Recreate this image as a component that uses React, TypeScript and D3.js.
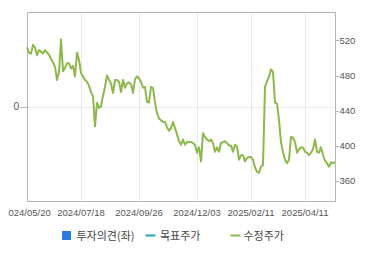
import React from "react";
import * as d3 from "d3";

const prices: number[] = [
  512, 506, 505, 515, 512, 503, 509, 507, 505, 509,
  506, 504, 499, 495, 490, 475, 484, 521, 485, 489,
  494, 494, 488, 491, 479, 506, 498, 483, 479, 475,
  473, 468, 461, 456, 422, 449, 443, 445, 457, 467,
  480, 475, 471, 460, 475, 475, 473, 461, 475, 466,
  471, 472, 470, 460, 476, 479, 477, 473, 466, 467,
  450, 449, 467, 466, 449, 437, 431, 429, 427, 427,
  421, 417, 420, 427, 420, 413, 405, 401, 407, 401,
  404, 404, 404, 403, 401, 392, 398, 382, 414, 410,
  407, 405, 407, 403, 393, 398, 393, 403, 404, 405,
  403, 400, 400, 393, 401, 399, 384, 389, 389, 382,
  386, 387, 387, 384, 375, 370, 369, 376, 378, 467,
  473, 479, 487, 484, 449, 448, 429, 404, 393, 384,
  380, 384, 410, 409, 404, 392, 396, 398, 398, 393,
  392, 389, 392, 396, 407, 393, 392, 398, 389, 383,
  380, 376, 381, 380, 381,
];

const dateLabels: string[] = [
  "2024/05/20",
  "2024/07/18",
  "2024/09/26",
  "2024/12/03",
  "2025/02/11",
  "2025/04/11",
];
const dateIndex: number[] = [0, 27, 56, 85, 112, 139];

const rightTicks: number[] = [360, 400, 440, 480, 520];
const leftTicks: number[] = [0];

const legendItems: string[] = ["투자의견(좌)", "목표주가", "수정주가"];

const W = 370;
const H = 255;
const L = 27;
const R = 335;
const T = 12;
const B = 201;

const FONT = "'Liberation Sans', Arial, sans-serif";
const KFONT = "'Noto Sans CJK KR', 'Noto Sans', sans-serif";

export default function App() {
  const x = d3.scaleLinear().domain([0, prices.length - 1]).range([L, R]);
  const yR = d3.scaleLinear().domain([336.8, 552.5]).range([B, T]);
  const yL = d3.scaleLinear().domain([-1, 1]).range([B, T]);
  const line = d3
    .line<number>()
    .x((_, i) => x(i))
    .y((d) => yR(d));

  return (
    <svg
      width={W}
      height={H}
      style={{ position: "absolute", left: 0, top: 0, background: "#fff" }}
    >
      <defs>
        <clipPath id="chartClip">
          <rect x={8} y={0} width={W - 8} height={H} />
        </clipPath>
      </defs>
      <rect x={0} y={0} width={W} height={H} fill="#fff" />
      <g clipPath="url(#chartClip)">
        {/* vertical grid */}
        {dateIndex.map((d, i) => (
          <line
            key={"vg" + i}
            x1={Math.round(x(d)) + 0.5}
            x2={Math.round(x(d)) + 0.5}
            y1={T}
            y2={B}
            stroke="#e8e8e8"
            strokeWidth={1}
          />
        ))}
        {/* horizontal grid (left axis) */}
        {leftTicks.map((t, i) => (
          <line
            key={"hg" + i}
            x1={L}
            x2={R}
            y1={Math.round(yL(t)) + 0.5}
            y2={Math.round(yL(t)) + 0.5}
            stroke="#e8e8e8"
            strokeWidth={1}
          />
        ))}
        {/* frame */}
        <path
          d={`M${L + 0.5},${B + 0.5}V${T + 0.5}H${R + 0.5}V${B + 0.5}`}
          fill="none"
          stroke="#b4b4b4"
          strokeWidth={1}
        />
        <line
          x1={L}
          x2={R + 1}
          y1={B + 0.5}
          y2={B + 0.5}
          stroke="#b4b4b4"
          strokeWidth={1}
        />
        {/* left axis */}
        {leftTicks.map((t, i) => (
          <g key={"lt" + i}>
            <line
              x1={L - 7}
              x2={L}
              y1={Math.round(yL(t)) + 0.5}
              y2={Math.round(yL(t)) + 0.5}
              stroke="#b4b4b4"
            />
            <text
              x={L - 8}
              y={yL(t)}
              dy="0.35em"
              textAnchor="end"
              fontFamily={FONT}
              fontSize={10}
              fill="#555"
            >
              {t}
            </text>
          </g>
        ))}
        {/* right axis */}
        {rightTicks.map((t, i) => (
          <g key={"rt" + i}>
            <line
              x1={R}
              x2={R + 4}
              y1={Math.round(yR(t)) + 0.5}
              y2={Math.round(yR(t)) + 0.5}
              stroke="#b4b4b4"
            />
            <text
              x={R + 4.5}
              y={yR(t)}
              dy="0.35em"
              textAnchor="start"
              fontFamily={FONT}
              fontSize={9.5}
              fill="#555"
            >
              {t}
            </text>
          </g>
        ))}
        {/* x axis labels */}
        {dateIndex.map((d, i) => (
          <text
            key={"xl" + i}
            x={x(d)}
            y={215.7}
            textAnchor="middle"
            fontFamily={FONT}
            fontSize={9.5}
            fill="#555"
          >
            {dateLabels[i]}
          </text>
        ))}
        {/* price line */}
        <path
          d={line(prices) || ""}
          fill="none"
          stroke="#8cb84c"
          strokeWidth={2}
          strokeLinejoin="round"
        />
        {/* legend */}
        <g fontFamily={KFONT} fontSize={11} fill="#444">
          <rect x={62} y={231} width={9} height={9} fill="#2a7ad8" />
          <text x={76.5} y={239.5}>
            {legendItems[0]}
          </text>
          <line x1={145.5} x2={155.5} y1={235.5} y2={235.5} stroke="#1fa9b3" strokeWidth={2} />
          <text x={160} y={239.5}>
            {legendItems[1]}
          </text>
          <line x1={230.5} x2={240.5} y1={235.5} y2={235.5} stroke="#8cb84c" strokeWidth={2} />
          <text x={243.5} y={239.5}>
            {legendItems[2]}
          </text>
        </g>
      </g>
    </svg>
  );
}
